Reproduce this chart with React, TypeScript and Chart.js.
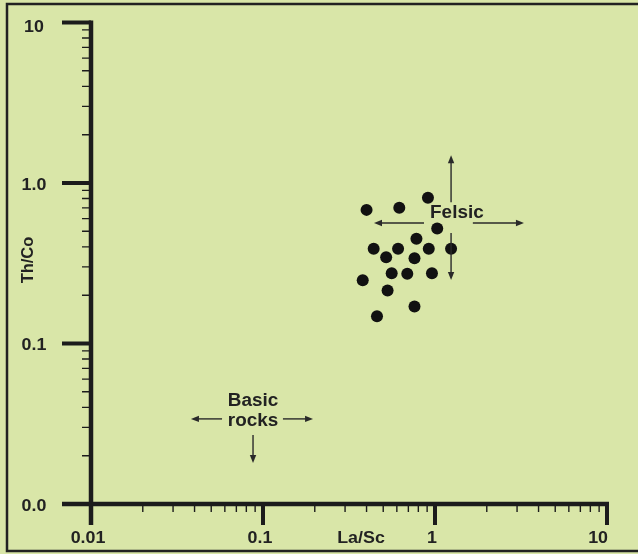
import React, { useEffect, useRef } from "react";
import { Chart, registerables } from "chart.js";

Chart.register(...registerables);

// La/Sc (x) and Th/Co (y) of the samples
const laSc = [0.40, 0.62, 0.91, 1.03, 0.78, 0.44, 0.52, 0.61, 0.76, 0.92, 1.24, 0.56, 0.69, 0.96, 0.38, 0.53, 0.76, 0.46];
const thCo = [0.68, 0.70, 0.81, 0.52, 0.45, 0.39, 0.345, 0.39, 0.34, 0.39, 0.39, 0.274, 0.272, 0.274, 0.248, 0.214, 0.170, 0.148];

const xTicks = [0.01, 0.1, 1, 10];
const xTickLabels = ["0.01", "0.1", "1", "10"];
const yTicks = [0.01, 0.1, 1, 10];
const yTickLabels = ["0.0", "0.1", "1.0", "10"];
const minorMultipliers = [2, 3, 4, 5, 6, 7, 8, 9];

const xTitle = "La/Sc";
const yTitle = "Th/Co";

const BG = "rgb(217,230,168)";
const INK = "#1c1c1c";
const FONT = '"Liberation Sans", Arial, sans-serif';
const STRETCH = 1.05;

function text(ctx: CanvasRenderingContext2D, s: string, x: number, y: number, size: number, align: CanvasTextAlign = "center") {
  ctx.save();
  ctx.translate(x, y);
  ctx.scale(STRETCH, 1);
  ctx.font = `bold ${size}px ${FONT}`;
  ctx.fillStyle = "#222";
  ctx.textAlign = align;
  ctx.textBaseline = "middle";
  ctx.fillText(s, 0, 0);
  ctx.restore();
}

function arrow(ctx: CanvasRenderingContext2D, x1: number, y1: number, x2: number, y2: number) {
  const ang = Math.atan2(y2 - y1, x2 - x1);
  const hl = 8, hw = 3.2;
  ctx.save();
  ctx.strokeStyle = "#2a2a2a";
  ctx.fillStyle = "#2a2a2a";
  ctx.lineWidth = 1.4;
  ctx.beginPath();
  ctx.moveTo(x1, y1);
  ctx.lineTo(x2 - Math.cos(ang) * (hl - 1), y2 - Math.sin(ang) * (hl - 1));
  ctx.stroke();
  ctx.beginPath();
  ctx.moveTo(x2, y2);
  ctx.lineTo(x2 - Math.cos(ang) * hl - Math.sin(ang) * hw, y2 - Math.sin(ang) * hl + Math.cos(ang) * hw);
  ctx.lineTo(x2 - Math.cos(ang) * hl + Math.sin(ang) * hw, y2 - Math.sin(ang) * hl - Math.cos(ang) * hw);
  ctx.closePath();
  ctx.fill();
  ctx.restore();
}

const decorPlugin = {
  id: "decor",
  beforeDraw(chart: any) {
    const ctx = chart.ctx as CanvasRenderingContext2D;
    ctx.save();
    ctx.fillStyle = BG;
    ctx.fillRect(0, 0, chart.width, chart.height);
    // frame
    ctx.strokeStyle = "#222";
    ctx.lineWidth = 2.5;
    ctx.beginPath();
    ctx.moveTo(chart.width + 5, 4);
    ctx.lineTo(7, 4);
    ctx.lineTo(7, 551);
    ctx.lineTo(chart.width + 5, 551);
    ctx.stroke();
    ctx.restore();
  },
  beforeDatasetsDraw(chart: any) {
    const ctx = chart.ctx as CanvasRenderingContext2D;
    const xs = chart.scales.x;
    const ys = chart.scales.y;
    const { left, right, top, bottom } = chart.chartArea;
    ctx.save();
    ctx.strokeStyle = INK;
    ctx.lineCap = "butt";
    // axis lines
    ctx.lineWidth = 4.5;
    ctx.beginPath();
    ctx.moveTo(left, top - 2);
    ctx.lineTo(left, bottom + 21);
    ctx.moveTo(left - 29, bottom);
    ctx.lineTo(right + 2, bottom);
    ctx.stroke();
    // major ticks
    ctx.lineWidth = 4;
    ctx.beginPath();
    xTicks.forEach((v) => {
      const p = xs.getPixelForValue(v);
      ctx.moveTo(p, bottom);
      ctx.lineTo(p, bottom + 21);
    });
    yTicks.forEach((v) => {
      const p = ys.getPixelForValue(v);
      ctx.moveTo(left, p);
      ctx.lineTo(left - 29, p);
    });
    ctx.stroke();
    // minor ticks
    ctx.lineWidth = 1.4;
    ctx.beginPath();
    xTicks.slice(0, -1).forEach((d) => {
      minorMultipliers.forEach((m) => {
        const p = xs.getPixelForValue(d * m);
        ctx.moveTo(p, bottom);
        ctx.lineTo(p, bottom + 8);
      });
    });
    yTicks.slice(0, -1).forEach((d) => {
      minorMultipliers.forEach((m) => {
        const p = ys.getPixelForValue(d * m);
        ctx.moveTo(left, p);
        ctx.lineTo(left - 9, p);
      });
    });
    ctx.stroke();
    ctx.restore();

    // tick labels
    xTicks.forEach((v, i) => {
      const p = xs.getPixelForValue(v);
      if (i === xTicks.length - 1) text(ctx, xTickLabels[i], p + 1, bottom + 34, 17, "right");
      else text(ctx, xTickLabels[i], p - 3, bottom + 34, 17, "center");
    });
    yTicks.forEach((v, i) => {
      const p = ys.getPixelForValue(v);
      const dy = i === yTicks.length - 1 ? 5 : 2;
      text(ctx, yTickLabels[i], 34, p + dy, 17, "center");
    });
    // axis titles
    text(ctx, xTitle, 361, bottom + 34, 17, "center");
    ctx.save();
    ctx.translate(28, 260);
    ctx.rotate(-Math.PI / 2);
    ctx.font = `bold 16.5px ${FONT}`;
    ctx.fillStyle = "#222";
    ctx.textAlign = "center";
    ctx.textBaseline = "middle";
    ctx.fillText(yTitle, 0, 0);
    ctx.restore();
  },
  afterDatasetsDraw(chart: any) {
    const ctx = chart.ctx as CanvasRenderingContext2D;
    const px = (v: number) => chart.scales.x.getPixelForValue(v);
    const py = (v: number) => chart.scales.y.getPixelForValue(v);
    // Felsic field
    text(ctx, "Felsic", px(1.34), py(0.65), 18, "center");
    arrow(ctx, px(1.24), py(0.76), px(1.24), py(1.49));
    arrow(ctx, px(1.24), py(0.488), px(1.24), py(0.249));
    arrow(ctx, px(0.863), py(0.563), px(0.442), py(0.563));
    arrow(ctx, px(1.66), py(0.563), px(3.29), py(0.563));
    // Basic rocks field
    text(ctx, "Basic", px(0.0875), py(0.0438), 18, "center");
    text(ctx, "rocks", px(0.0875), py(0.0329), 18, "center");
    arrow(ctx, px(0.0578), py(0.0339), px(0.0381), py(0.0339));
    arrow(ctx, px(0.1306), py(0.0339), px(0.1954), py(0.0339));
    arrow(ctx, px(0.0875), py(0.0269), px(0.0875), py(0.018));
  },
};

export default function App() {
  const ref = useRef<HTMLCanvasElement | null>(null);
  useEffect(() => {
    document.body.style.margin = "0";
    if (!ref.current) return;
    const chart = new Chart(ref.current, {
      type: "scatter",
      data: {
        datasets: [
          {
            data: laSc.map((x, i) => ({ x, y: thCo[i] })),
            backgroundColor: "#111",
            borderColor: "#111",
            pointRadius: 6,
            pointHoverRadius: 6,
            borderWidth: 0,
          },
        ],
      },
      options: {
        responsive: false,
        animation: false,
        events: [],
        layout: { padding: { left: 91, right: 31, top: 22.5, bottom: 50 } },
        plugins: { legend: { display: false }, tooltip: { enabled: false } },
        scales: {
          x: { type: "logarithmic", min: 0.01, max: 10, display: false },
          y: { type: "logarithmic", min: 0.01, max: 10, display: false },
        },
      },
      plugins: [decorPlugin],
    });
    return () => chart.destroy();
  }, []);
  return <canvas ref={ref} width={638} height={554} style={{ display: "block" }} />;
}
